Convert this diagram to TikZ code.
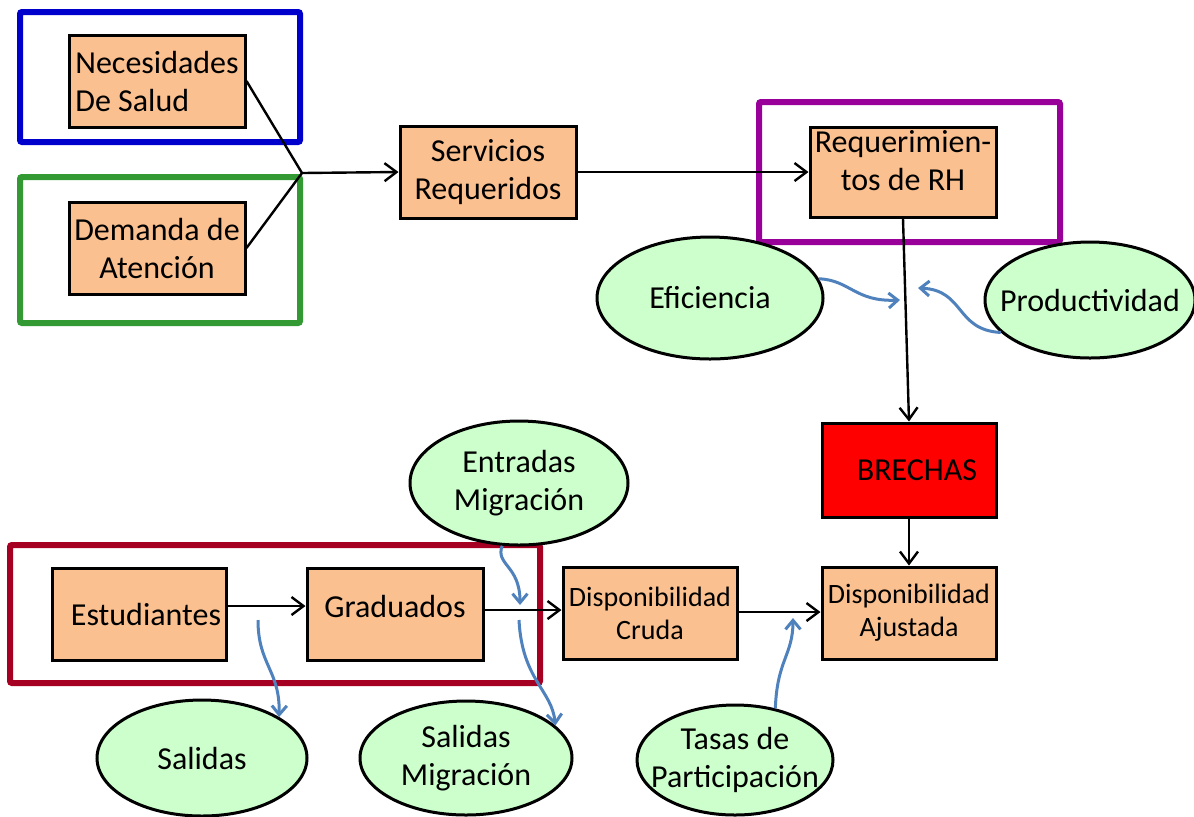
\documentclass[tikz,border=0pt]{standalone}
\usepackage{fontspec}
\setmainfont{Carlito}
\usetikzlibrary{shapes.geometric, arrows.meta, calc}
\definecolor{boxpeach}{RGB}{250,192,143}
\definecolor{ovalgreen}{RGB}{204,255,204}
\definecolor{frameblue}{RGB}{0,0,204}
\definecolor{framegreen}{RGB}{51,153,51}
\definecolor{framepurple}{RGB}{153,0,153}
\definecolor{framered}{RGB}{165,0,33}
\definecolor{flowblue}{RGB}{79,129,189}

\begin{document}
\begin{tikzpicture}[x=0.5pt, y=-0.5pt,
    box/.style={draw, line width=1.5pt, fill=boxpeach, minimum width=88pt, minimum height=46pt,
      inner sep=1pt, align=center, font=\fontsize{16}{19}\selectfont},
    smallbox/.style={box, font=\fontsize{14}{16.5}\selectfont},
    oval/.style={draw, ellipse, line width=1.5pt, fill=ovalgreen, inner xsep=-12pt, inner ysep=-2pt,
      align=center, font=\fontsize{16}{19}\selectfont},
    outline/.style={line width=3pt, rounded corners=1pt},
    flow/.style={line width=1.2pt, -{Straight Barb[length=6pt, width=9pt]}},
    influence/.style={flowblue, line width=1.5pt, -{Straight Barb[length=4.5pt, width=7.5pt]}}]
    \useasboundingbox (0,0) rectangle (1194,816);

    % Frames
    \draw[outline, frameblue] (20,12) rectangle (300,142);
    \draw[outline, framegreen] (20,177) rectangle (300,323);
    \draw[outline, framepurple] (759,102) rectangle (1060,242);
    \draw[outline, framered] (10,545) rectangle (540,683);

    % Demand side
    \node[box, align=left] (necesidades) at (157,81) {Necesidades\\De Salud};
    \node[box] (demanda) at (157,248) {Demanda de\\Atención};
    \node[box] (servicios) at (488,172) {Servicios\\Requeridos};
    \node[box, minimum width=93pt, minimum height=45pt] (requerimientos) at (903,172) {Requerimien-\\tos de RH\\[-7pt]\mbox{}};
    \node[box, fill=red, minimum width=87pt, minimum height=47pt] (brechas) at (909,470) {\hspace{8pt}BRECHAS};

    \coordinate (join) at (302,173);
    \draw[line width=1.2pt] (necesidades.east) -- (join);
    \draw[line width=1.2pt] (demanda.east) -- (join);
    \draw[flow] (join) -- (servicios.west);
    \draw[flow] (servicios.east) -- (requerimientos.west);
    \draw[flow] (requerimientos.south) -- (brechas.north);

    % Adjustments on the requirements
    \node[oval, minimum width=113pt, minimum height=61pt] (eficiencia) at (710,298) {Eficiencia};
    \node[oval, minimum width=105pt, minimum height=58pt] (productividad) at (1090,300) {Productividad};
    \coordinate (efin) at (900,300);
    \coordinate (prodin) at (918,288);
    \draw[influence] (eficiencia.10) .. controls (850,280) and (855,302) .. (efin);
    \draw[influence] (productividad.200) .. controls (955,330) and (965,290) .. (prodin);

    % Supply side
    \node[box, minimum width=87pt] (estudiantes) at (139,614) {\hspace{7pt}Estudiantes};
    \node[box] (graduados) at (395,614) {\raisebox{8pt}{Graduados}};
    \node[smallbox, minimum width=87pt] (cruda) at (650,613) {Disponibilidad\\Cruda};
    \node[smallbox, minimum width=87pt] (ajustada) at (909,613) {Disponibilidad\\Ajustada};

    \draw[flow] (estudiantes.east |- 0,606) -- (graduados.west |- 0,606);
    \draw[flow] (graduados.east |- 0,610) -- (cruda.west |- 0,610);
    \draw[flow] (cruda.east |- 0,612) -- (ajustada.west |- 0,612);
    \draw[flow] (brechas.south) -- (ajustada.north);

    % Flows in and out
    \node[oval, minimum width=109pt, minimum height=62pt] (entradas) at (519,483) {Entradas\\Migración};
    \node[oval, minimum width=105pt, minimum height=58pt] (salidas) at (202,758) {Salidas};
    \node[oval, minimum width=106pt, minimum height=57pt] (salidasmig) at (466,758) {Salidas\\Migración};
    \node[oval, minimum width=98pt, minimum height=55pt] (tasas) at (735,760) {Tasas de\\Participación};

    \coordinate (entin) at (520,605);
    \coordinate (salout) at (258,620);
    \coordinate (migout) at (519,620);
    \coordinate (tasin) at (793,618);
    \draw[influence] (entradas.255) .. controls (495,565) and (520,565) .. (entin);
    \draw[influence] (salout) .. controls (258,665) and (280,670) .. (salidas.28);
    \draw[influence] (migout) .. controls (522,680) and (552,690) .. (salidasmig.20);
    \draw[influence] (tasas.52) .. controls (777,660) and (793,655) .. (tasin);
\end{tikzpicture}
\end{document}
